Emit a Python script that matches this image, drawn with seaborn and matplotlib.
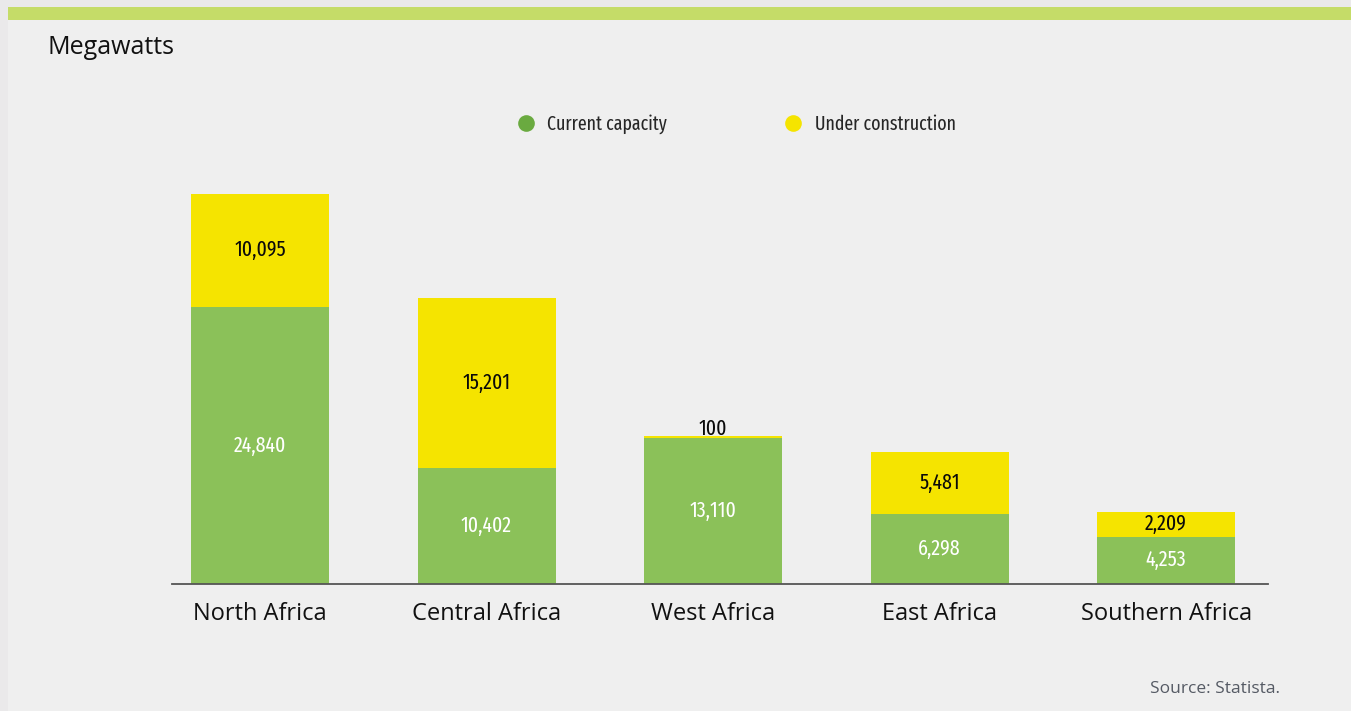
import matplotlib
matplotlib.use("Agg")
import matplotlib.pyplot as plt
from matplotlib.patches import Rectangle
from matplotlib.lines import Line2D
import seaborn as sns
import pandas as pd

# Installed power capacity by African region, in megawatts
regions = ["North Africa", "Central Africa", "West Africa", "East Africa", "Southern Africa"]
current_capacity = [24840, 10402, 13110, 6298, 4253]
under_construction = [10095, 15201, 100, 5481, 2209]

GREEN = "#8bc159"
GREEN_DOT = "#6aaa40"
YELLOW = "#f5e400"
BG = "#efefef"
NARROW = ["Fira Sans Extra Condensed", "DejaVu Sans"]
BODY = ["Open Sans", "DejaVu Sans"]

sns.set_theme(style="white")
plt.rcParams["font.family"] = BODY

df = pd.DataFrame({
    "region": regions,
    "current": current_capacity,
    "construction": under_construction,
})
df["total"] = df["current"] + df["construction"]

W, H = 1351, 711
fig = plt.figure(figsize=(W / 100, H / 100), dpi=100)
fig.patch.set_facecolor(BG)

# frame strips and green header band
fig.add_artist(Rectangle((0, 1 - 7 / H), 1, 7 / H, transform=fig.transFigure,
                         facecolor="#eae9ea", edgecolor="none", zorder=0))
fig.add_artist(Rectangle((0, 0), 8 / W, 1, transform=fig.transFigure,
                         facecolor="#eae9ea", edgecolor="none", zorder=0))
fig.add_artist(Rectangle((8 / W, 1 - 20 / H), 1, 13 / H, transform=fig.transFigure,
                         facecolor="#c5dc68", edgecolor="none", zorder=1))

ax = fig.add_axes([172 / W, (H - 584) / H, 1096 / W, 402 / H])
ax.set_facecolor(BG)

sns.barplot(data=df, x="region", y="total", color=YELLOW, width=0.61,
            saturation=1, linewidth=0, ax=ax, zorder=2)
sns.barplot(data=df, x="region", y="current", color=GREEN, width=0.61,
            saturation=1, linewidth=0, ax=ax, zorder=3)

ax.set_xlim(-0.389, 4.45)
ax.set_ylim(0, 36000)
ax.set_xlabel("")
ax.set_ylabel("")
ax.set_yticks([])
for side in ["top", "right", "left"]:
    ax.spines[side].set_visible(False)
ax.spines["bottom"].set_color("#555555")
ax.spines["bottom"].set_linewidth(1.3)
ax.spines["bottom"].set_zorder(4)
ax.tick_params(axis="x", length=0, pad=13, labelsize=17, labelcolor="#111111")

LABEL = dict(ha="center", fontsize=15.5, family=NARROW, fontweight="normal", zorder=5)
for i, (cur, con) in enumerate(zip(current_capacity, under_construction)):
    ax.text(i, cur / 2, f"{cur:,}", va="center", color="white", **LABEL)
    if con < 1000:
        ax.text(i, cur + con + 100, f"{con:,}", va="baseline", color="#0a0a0a", **LABEL)
    else:
        ax.text(i, cur + con / 2, f"{con:,}", va="center", color="#0a0a0a", **LABEL)

fig.text(47 / W, 1 - 47 / H, "Megawatts", ha="left", va="center",
         fontsize=18, color="#111111", family=BODY)
fig.text(1280 / W, 1 - 689 / H, "Source: Statista.", ha="right", va="center",
         fontsize=12.5, color="#555a64", family=BODY)

handles = [
    Line2D([], [], marker="o", linestyle="none", markersize=12,
           markerfacecolor=GREEN_DOT, markeredgecolor="none", label="Current capacity"),
    Line2D([], [], marker="o", linestyle="none", markersize=12,
           markerfacecolor=YELLOW, markeredgecolor="none", label="Under construction"),
]
fig.legend(handles=handles, loc="center", bbox_to_anchor=(735 / W, 1 - 124 / H),
           ncol=2, frameon=False, columnspacing=5.9, handletextpad=0.5,
           handlelength=1.2, prop={"family": NARROW, "size": 14, "weight": "normal"})

fig.savefig("out.png", dpi=100, facecolor=BG)
